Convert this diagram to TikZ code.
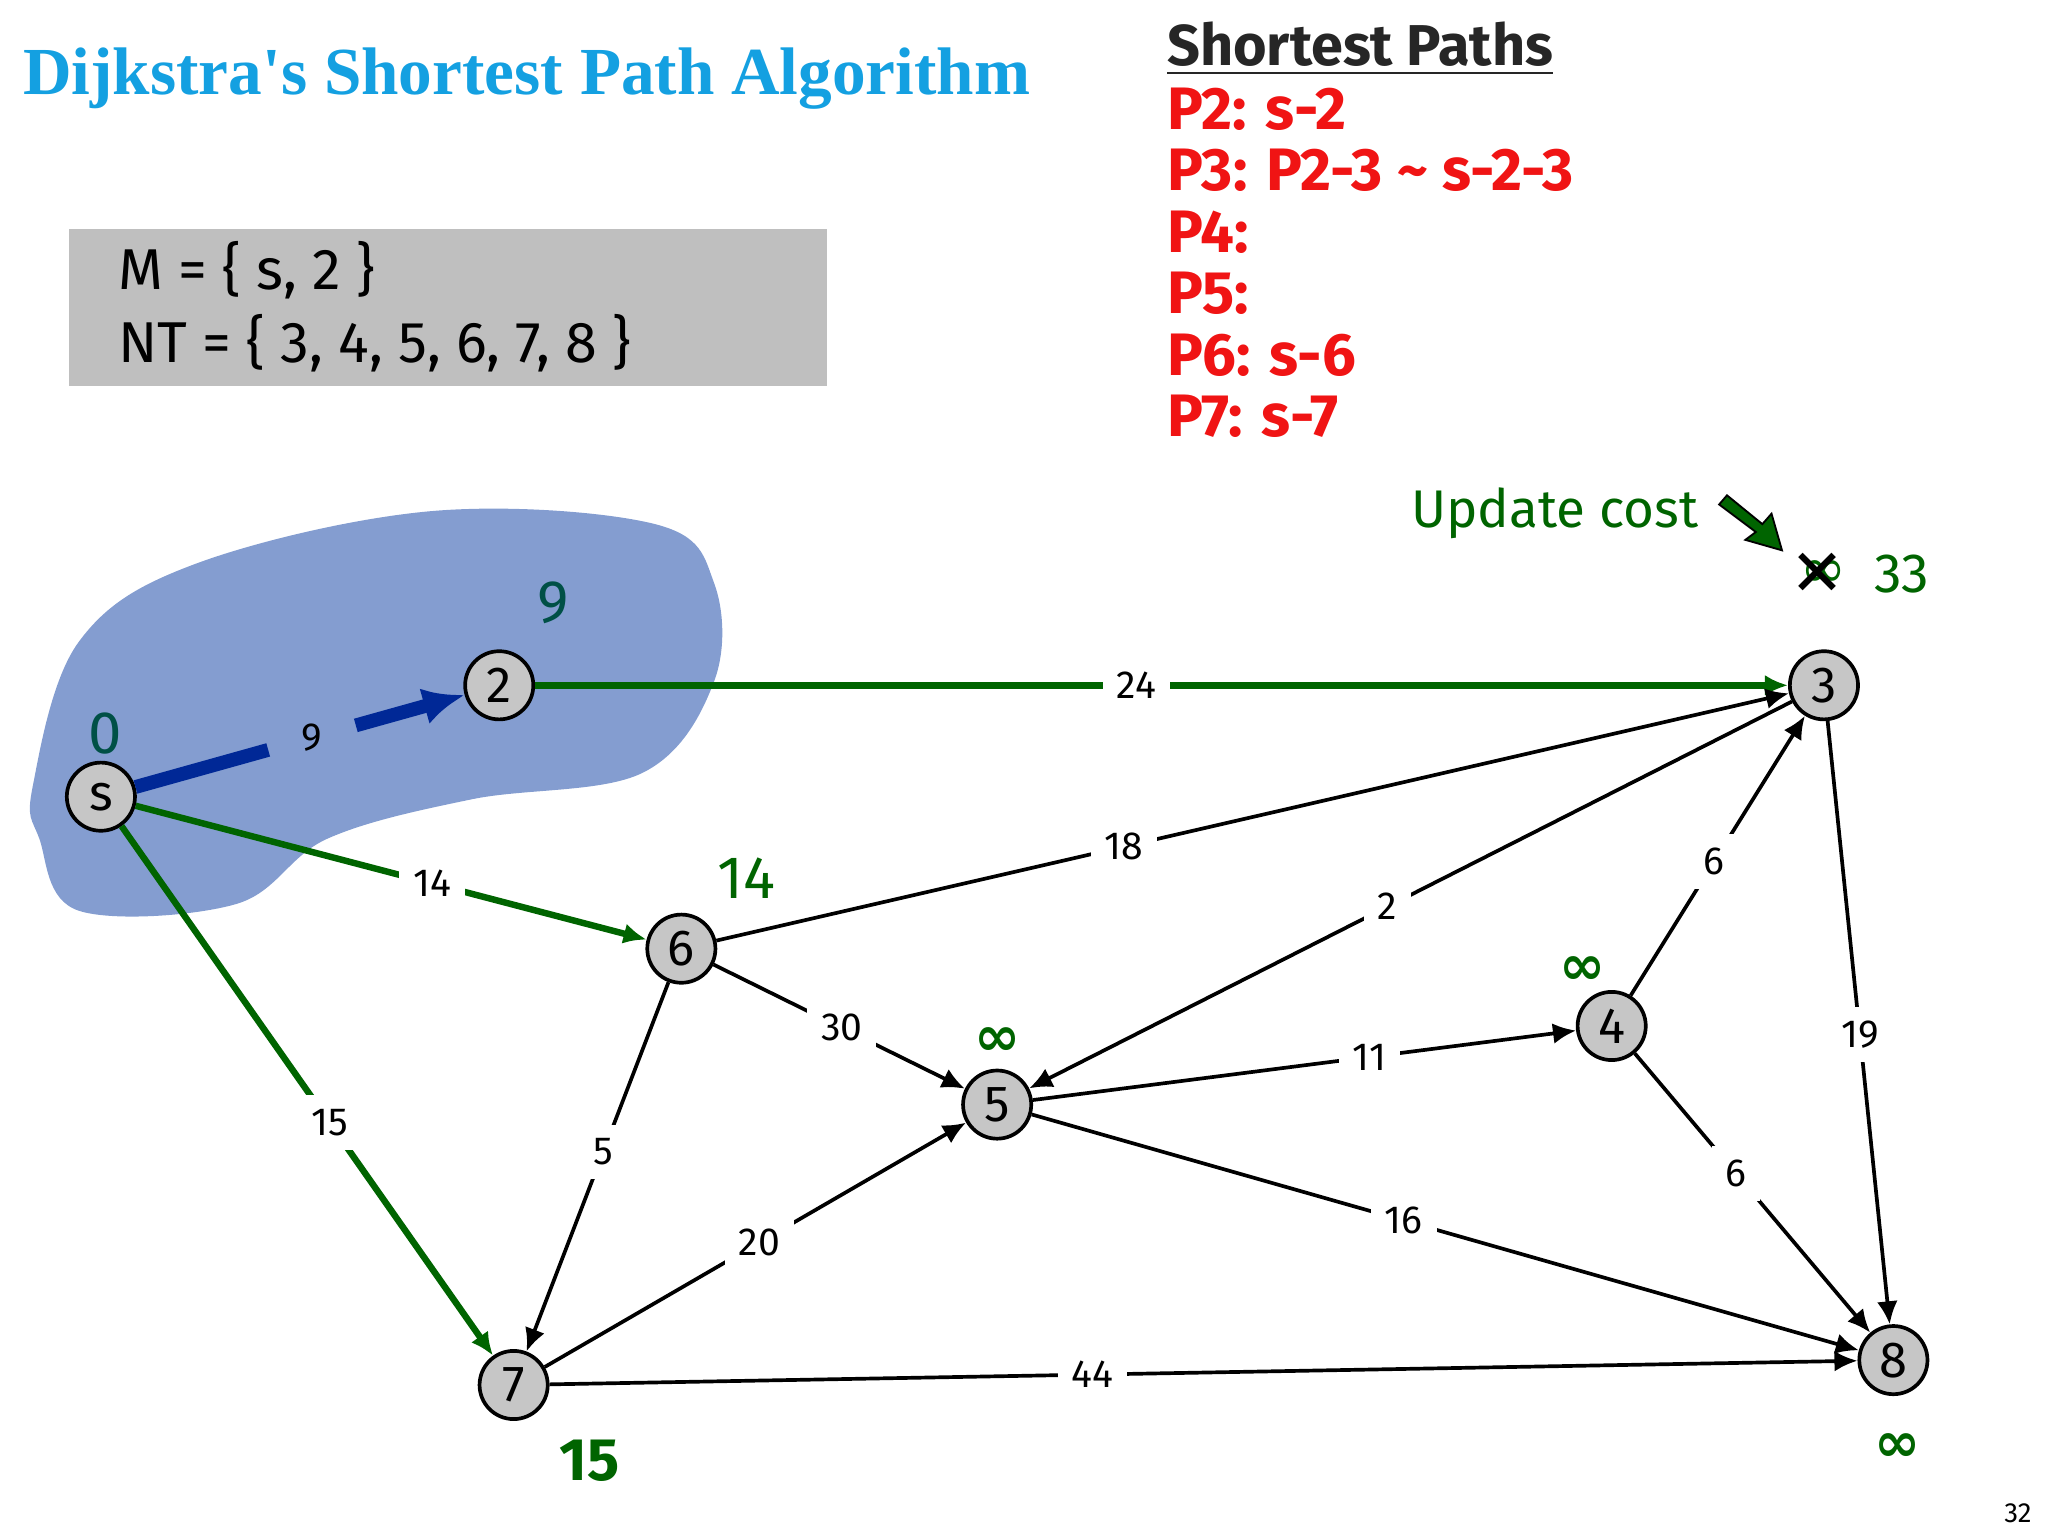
\documentclass[tikz,border=0pt]{standalone}
\usepackage{fontspec}
\setmainfont{Fira Sans}
\newfontfamily\titlefont{Liberation Serif}
\newfontfamily\symfont{DejaVu Sans}
\usetikzlibrary{arrows.meta,calc}
\definecolor{titleblue}{RGB}{20,160,225}
\definecolor{dgreen}{RGB}{0,100,0}
\definecolor{teal2}{RGB}{0,80,70}
\definecolor{blobblue}{RGB}{110,140,200}
\definecolor{pathred}{RGB}{240,20,20}
\definecolor{sblue}{RGB}{0,40,150}
\begin{document}
\begin{tikzpicture}[x=0.01cm,y=-0.01cm,
  vtx/.style={circle,draw,thick,fill=gray!45,minimum size=0.52cm,inner sep=0pt,font=\fontsize{11}{11}\selectfont},
  edge/.style={-{Latex[length=5pt,width=4.5pt]},thick},
  gedge/.style={edge,dgreen,line width=1.4pt},
  lbl/.style={fill=white,inner sep=3pt,font=\fontsize{8.5}{8.5}\selectfont,text=black},
  val/.style={font=\fontsize{13}{13}\selectfont,text=dgreen}]
\useasboundingbox (0,0) rectangle (1563,1172);
% blob
\fill[blobblue,opacity=0.85] plot[smooth cycle,tension=0.6] coordinates {(25,600) (60,490) (150,430) (330,390) (500,400) (545,445) (545,520) (490,590) (360,610) (250,640) (180,690) (60,695) (30,640)};
% title
\node[anchor=west,inner sep=0pt,text=titleblue,font=\titlefont\bfseries\fontsize{14.6}{15}\selectfont] (title) at (17,60) {Dijkstra's Shortest Path Algorithm};
% box
\node[fill=gray!50,minimum width=5.78cm,minimum height=1.2cm,anchor=north west] (box) at (52,174) {};
\node[anchor=west,font=\fontsize{12.5}{13}\selectfont] (m) at (78,206) {M = \{ s, 2 \}};
\node[anchor=west,font=\fontsize{12.5}{13}\selectfont] (nt) at (78,262) {NT = \{ 3, 4, 5, 6, 7, 8 \}};
% shortest paths
\node[anchor=west,inner sep=0pt,text=gray!30!black,font=\bfseries\fontsize{12.5}{13}\selectfont] (sp) at (890,37) {\underline{Shortest Paths}};
\begin{scope}[every node/.style={anchor=west,inner sep=0pt,text=pathred,font=\bfseries\fontsize{13}{13}\selectfont}]
\node (p2) at (890,83) {P2: s-2};
\node (p3) at (890,130) {P3: P2-3 \textasciitilde{} s-2-3};
\node (p4) at (890,177) {P4:};
\node (p5) at (890,224) {P5:};
\node (p6) at (890,271) {P6: s-6};
\node (p7) at (890,318) {P7: s-7};
\end{scope}
% update cost
\node[anchor=east,inner sep=0pt,val,font=\fontsize{11.5}{12}\selectfont] (uc) at (1297,392) {Update cost};
\fill[dgreen,draw=black] (1318,378) -- (1345,400) -- (1352,392) -- (1360,420) -- (1332,412) -- (1340,406) -- (1312,385) -- cycle;
\node[font=\symfont\fontsize{12}{12}\selectfont,text=dgreen] (inf3) at (1392,438) {∞};
\node[font=\symfont\fontsize{14}{14}\selectfont] (x3) at (1387,438) {✕};
\node[val,anchor=west,font=\fontsize{12}{12}\selectfont] (c3) at (1418,438) {33};
% vertices
\node[vtx] (s) at (77,608) {s};
\node[vtx] (n2) at (381,523) {2};
\node[vtx] (n3) at (1392,523) {3};
\node[vtx] (n6) at (520,724) {6};
\node[vtx] (n5) at (761,843) {5};
\node[vtx] (n4) at (1230,783) {4};
\node[vtx] (n7) at (392,1057) {7};
\node[vtx] (n8) at (1445,1038) {8};
% values
\node[val,text=teal2] (v2) at (422,460) {9};
\node[val,text=teal2] (vs) at (80,560) {0};
\node[val] (v6) at (570,670) {14};
\node[val,font=\symfont\bfseries\fontsize{12}{12}\selectfont] (v5) at (761,795) {∞};
\node[val,font=\symfont\bfseries\fontsize{12}{12}\selectfont] (v4) at (1208,741) {∞};
\node[val,font=\bfseries\fontsize{13}{13}\selectfont] (v7) at (450,1115) {15};
\node[val,font=\symfont\bfseries\fontsize{12}{12}\selectfont] (v8) at (1448,1105) {∞};
\node[font=\fontsize{6}{6}\selectfont] (pg) at (1540,1155) {32};
% edges
\coordinate (sa) at ($(s)!0.42!(n2)$);
\coordinate (sb) at ($(s)!0.64!(n2)$);
\draw[sblue,line width=3pt] (s) -- (sa);
\draw[-{Latex[length=9pt,width=8pt]},sblue,line width=3pt] (sb) -- (n2);
\node[font=\fontsize{8.5}{8.5}\selectfont] (l9) at ($(s)!0.53!(n2)$) {9};
\draw[gedge] (n2) -- node[lbl,pos=0.48]{24} (n3);
\draw[gedge] (s) -- node[lbl,pos=0.58]{14} (n6);
\draw[gedge] (s) -- node[lbl,pos=0.56]{15} (n7);
\draw[edge] (n6) -- node[lbl,pos=0.38]{18} (n3);
\draw[edge] (n3) -- node[lbl,pos=0.53]{2} (n5);
\draw[edge] (n4) -- node[lbl,pos=0.48]{6} (n3);
\draw[edge] (n3) -- node[lbl,pos=0.52]{19} (n8);
\draw[edge] (n6) -- node[lbl,pos=0.51]{30} (n5);
\draw[edge] (n6) -- node[lbl,pos=0.46]{5} (n7);
\draw[edge] (n7) -- node[lbl,pos=0.51]{20} (n5);
\draw[edge] (n5) -- node[lbl,pos=0.62]{11} (n4);
\draw[edge] (n5) -- node[lbl,pos=0.45]{16} (n8);
\draw[edge] (n4) -- node[lbl,pos=0.43]{6} (n8);
\draw[edge] (n7) -- node[lbl,pos=0.415]{44} (n8);
\end{tikzpicture}
\end{document}
